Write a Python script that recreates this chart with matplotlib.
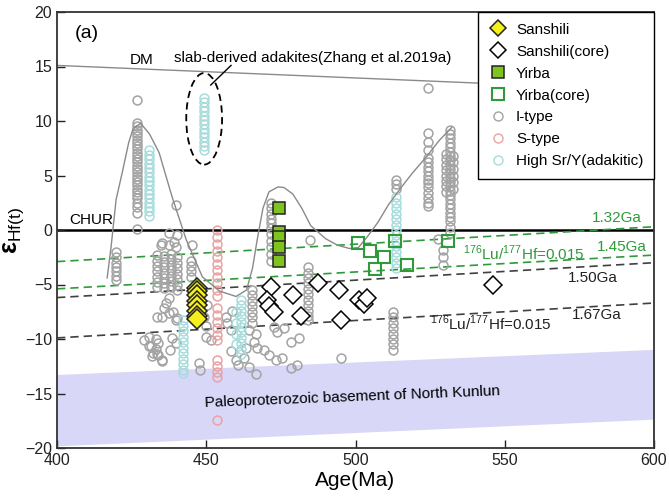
import matplotlib
matplotlib.use("Agg")
import matplotlib.pyplot as plt
from matplotlib.lines import Line2D
from matplotlib.patches import Ellipse, Polygon

plt.rcParams['font.family'] = ['Liberation Sans', 'DejaVu Sans']
plt.rcParams['mathtext.fontset'] = 'custom'
plt.rcParams['mathtext.rm'] = 'Liberation Sans'
plt.rcParams['mathtext.bf'] = 'Liberation Sans:bold'

# ---------------- data ----------------
# Sanshili zircons (age Ma, eHf(t))
sanshili_age = [447, 447, 447, 447, 447, 447, 447, 447]
sanshili_eps = [-5.3, -5.6, -6.0, -6.5, -6.9, -7.4, -7.9, -8.2]

# Sanshili inherited cores
sanshili_core_age = [471.8, 470.5, 471.1, 472.8, 478.9, 481.9, 487.6, 494.6, 495.3, 501.3, 502.7, 503.7, 546.0]
sanshili_core_eps = [-5.2, -6.4, -7.0, -7.5, -6.0, -7.9, -4.9, -5.5, -8.3, -6.4, -6.8, -6.2, -5.0]

# Yirba zircons
yirba_age = [474.5, 474.5, 474.5, 474.5, 474.5]
yirba_eps = [2.0, -0.2, -0.6, -1.6, -2.8]

# Yirba inherited cores
yirba_core_age = [500.7, 504.7, 509.7, 506.4, 513.1, 517.4, 530.9]
yirba_core_eps = [-1.2, -1.9, -2.5, -3.6, -1.0, -3.2, -1.0]

# Regional I-type granitoids
itype_age = (
    [426.8] * 29
    + [419.8] * 7
    + [439.9, 437.6, 440.3, 439.3, 435.2, 437.6, 434.9, 439.9, 445.3]
    + [433.6] * 7 + [435.9] * 7 + [438.3] * 7 + [440.3] * 7
    + [445.0] * 4
    + [437.6, 436.0, 438.7, 440.3, 433.6, 436.6, 437.6, 439.9, 435.2]
    + [430.9, 433.0, 434.0, 433.0, 434.0, 435.2, 431.6, 429.2, 430.9, 432.0, 433.6, 431.9,
       435.2, 438.4, 439.7, 438.0, 447.7, 447.9, 450.0, 451.7]
    + [449.3, 450.3, 450.0, 456.7, 457.0, 458.7, 458.4]
    + [465.4] * 7
    + [464.4, 466.8, 466.0, 463.4, 467.1, 469.5, 471.1, 460.1, 462.8, 464.4, 466.8, 460.8, 458.4]
    + [471.8] * 11
    + [484.6]
    + [484.2] * 11
    + [472.8, 476.2, 473.8, 481.2, 478.5, 475.5, 473.5, 480.5, 478.5, 495.3]
    + [512.4] * 8
    + [513.7] * 3
    + [524.2] * 16
    + [531.5] * 24
    + [530.3] * 8
    + [532.8] * 6
    + [527.5, 529.3, 529.3, 529.3]
)
itype_eps = (
    [11.9, 9.8, 9.5, 9.2, 8.9, 8.6, 8.3, 8.0, 7.7, 7.4, 7.1, 6.8, 6.5, 6.2, 5.9, 5.6, 5.3,
     5.0, 4.7, 4.4, 4.1, 3.8, 3.5, 3.2, 2.9, 2.5, 2.1, 1.6, 0.1]
    + [-2.0, -2.5, -3.0, -3.4, -3.8, -4.2, -4.6]
    + [2.3, -0.3, -0.5, -1.1, -1.2, -1.4, -1.4, -1.6, -1.4]
    + [-2.3, -2.8, -3.3, -3.8, -4.3, -4.8, -5.2]
    + [-2.4, -2.9, -3.4, -3.9, -4.4, -4.9, -5.3]
    + [-2.2, -2.7, -3.2, -3.7, -4.2, -4.7, -5.2]
    + [-2.5, -3.0, -3.5, -4.0, -4.5, -5.0, -5.5]
    + [-2.8, -3.3, -3.8, -4.3]
    + [-6.2, -7.2, -7.5, -8.1, -8.0, -6.7, -7.6, -8.3, -8.0]
    + [-9.8, -10.0, -10.4, -10.9, -11.5, -11.9, -10.6, -10.1, -10.6, -11.3, -11.4, -11.6,
       -12.0, -9.9, -10.4, -11.0, -12.2, -12.8, -9.8, -10.1]
    + [-8.0, -6.9, -8.8, -8.0, -8.5, -7.4, -9.2]
    + [-5.5, -6.0, -6.5, -7.0, -7.5, -8.0, -8.5]
    + [-9.2, -9.5, -10.3, -10.8, -10.8, -11.0, -11.5, -11.9, -11.7, -12.6, -13.2, -12.4, -11.1]
    + [2.5, 2.0, 1.5, 1.0, 0.6, 0.2, -0.4, -1.0, -1.6, -2.2, -2.8]
    + [-0.9]
    + [-3.4, -3.9, -4.4, -4.9, -5.4, -5.9, -6.4, -6.9, -7.4, -7.9, -8.3]
    + [-8.9, -9.0, -9.4, -9.9, -10.3, -11.7, -11.9, -12.4, -12.7, -11.7]
    + [-7.5, -8.0, -8.5, -9.0, -9.5, -10.0, -10.5, -11.0]
    + [4.6, 4.2, 3.8]
    + [13.0, 8.9, 8.1, 7.3, 6.6, 6.2, 5.8, 5.4, 5.0, 4.6, 4.3, 3.9, 3.4, 2.9, 2.5, 2.2]
    + [9.2, 8.8, 8.4, 8.0, 7.6, 7.2, 6.8, 6.4, 6.0, 5.6, 5.2, 4.8, 4.4, 4.0, 3.6, 3.2,
       2.8, 2.4, 2.0, 1.6, 1.2, 0.8, 0.3, -0.3]
    + [7.0, 6.5, 6.0, 5.5, 5.0, 4.5, 4.0, 3.5]
    + [6.8, 6.2, 5.6, 5.0, 4.4, 3.8]
    + [-0.8, -1.8, -2.5, -3.2]
)

# Regional S-type granitoids
stype_age = [453.7] * 22
stype_eps = [0.0, -0.6, -1.3, -1.9, -2.5, -3.1, -3.7, -4.3, -4.9, -5.5, -6.1, -7.2, -7.8,
             -8.4, -9.0, -9.6, -10.1, -11.9, -12.5, -13.0, -13.5, -17.4]

# High Sr/Y (adakitic) rocks
adak_age = [430.9] * 16 + [449.2] * 13 + [442.3] * 11 + [461.5] * 11 + [460.0] * 4 + [513.7] * 14
adak_eps = (
    [7.3, 6.9, 6.5, 6.1, 5.7, 5.3, 4.9, 4.5, 4.1, 3.7, 3.3, 2.9, 2.5, 2.1, 1.7, 1.3]
    + [12.1, 11.7, 11.3, 10.9, 10.5, 10.1, 9.7, 9.3, 8.9, 8.5, 8.1, 7.7, 7.3]
    + [-8.3, -8.8, -9.3, -9.8, -10.3, -10.8, -11.3, -11.8, -12.3, -12.8, -13.1]
    + [-6.4, -6.9, -7.4, -7.9, -8.4, -8.9, -9.4, -9.9, -10.4, -10.9, -11.4]
    + [-7.5, -8.5, -9.5, -10.5]
    + [3.0, 2.5, 2.0, 1.5, 1.0, 0.5, 0.0, -0.5, -1.0, -1.5, -2.0, -2.5, -3.0, -3.5]
)

# Hand-drawn trend envelope through the regional data
trend_age = [416.8, 418.1, 419.8, 421.8, 424.0, 425.5, 428.0, 431.0, 434.2, 438.6, 443.3,
             448.7, 454.4, 460.0, 463.5, 465.5, 467.0, 469.0, 471.0, 474.0, 476.0, 479.0,
             482.0, 485.0, 490.0, 494.0, 498.0, 501.0, 504.0, 507.5, 511.0, 515.0, 519.0,
             524.0, 528.0, 532.2]
trend_eps = [-4.4, -1.6, 2.8, 5.2, 8.0, 9.3, 9.8, 8.8, 7.1, 3.0, -0.9, -4.3, -5.6, -6.1,
             -5.5, -3.5, -1.0, 2.0, 3.5, 3.95, 3.9, 3.3, 2.0, 0.4, -0.8, -1.4, -1.7, -1.6,
             -0.6, 0.7, 2.3, 3.8, 5.2, 6.8, 8.2, 9.4]

# Reference evolution lines (end points at 400 and 600 Ma)
line_ages = [400, 600]
dm_eps = [15.1, 12.8]
tdm_132_eps = [-2.9, 0.3]
tdm_145_eps = [-5.4, -2.3]
tdm_150_eps = [-6.2, -3.0]
tdm_167_eps = [-9.9, -6.7]
basement_top = [-13.3, -11.0]
basement_bottom = [-19.85, -17.4]

# ---------------- figure ----------------
fig = plt.figure(figsize=(6.69, 5.0), dpi=100)
ax = fig.add_axes([0.0852, 0.104, 0.8924, 0.872])
ax.set_xlim(400, 600)
ax.set_ylim(-20, 20)

GRAY = '#a3a3a3'
PINK = '#e8a3a3'
CYAN = '#a6dcdc'
GREEN = '#2e9a3a'
LIME = '#7fc41e'

# basement field
ax.add_patch(Polygon([(line_ages[0], basement_top[0]), (line_ages[1], basement_top[1]),
                      (line_ages[1], basement_bottom[1]), (line_ages[0], basement_bottom[0])],
                     closed=True, facecolor='#d9d7f8', edgecolor='none', zorder=0))

# reference lines
ax.plot(line_ages, dm_eps, color='#8a8a8a', lw=1.0, zorder=1)
ax.axhline(0, color='black', lw=1.8, zorder=1)
ax.plot(line_ages, tdm_132_eps, color=GREEN, lw=1.2, ls=(0, (5, 3)), zorder=1)
ax.plot(line_ages, tdm_145_eps, color=GREEN, lw=1.2, ls=(0, (5, 3)), zorder=1)
ax.plot(line_ages, tdm_150_eps, color='#404040', lw=1.2, ls=(0, (5, 3)), zorder=1)
ax.plot(line_ages, tdm_167_eps, color='#404040', lw=1.2, ls=(0, (5, 3)), zorder=1)

# regional data
circ = dict(marker='o', ls='none', ms=6.4, mfc='none', mew=1.1)
ax.plot(itype_age, itype_eps, mec=GRAY, zorder=2, **circ)
ax.plot(stype_age, stype_eps, mec=PINK, zorder=2, **circ)
ax.plot(adak_age, adak_eps, mec=CYAN, zorder=2, **circ)

# trend curve
ax.plot(trend_age, trend_eps, color='#8a8a8a', lw=1.0, zorder=3)

# this study
ax.plot(sanshili_core_age, sanshili_core_eps, marker='D', ls='none', ms=9.5, mfc='white',
        mec='black', mew=1.1, zorder=4)
ax.plot(yirba_core_age, yirba_core_eps, marker='s', ls='none', ms=9, mfc='none',
        mec=GREEN, mew=1.5, zorder=4)
ax.plot(yirba_age, yirba_eps, marker='s', ls='none', ms=9, mfc=LIME,
        mec='#222222', mew=1.1, zorder=5)
ax.plot(sanshili_age, sanshili_eps, marker='D', ls='none', ms=10, mfc='#f5f01a',
        mec='#222222', mew=1.1, zorder=5)

# slab-derived adakite field
ax.add_patch(Ellipse((449.3, 10.2), width=12, height=8.4, fill=False, ec='black',
                     lw=1.3, ls=(0, (4, 2.5)), zorder=3))
ax.plot([451.5, 458.3], [13.3, 15.1], color='black', lw=1.0, zorder=3)
ax.text(439.3, 15.8, 'slab-derived adakites(Zhang et al.2019a)', fontsize=11,
        va='center', ha='left', zorder=6)

# labels
ax.text(410, 18.0, '(a)', fontsize=14, va='center', ha='center')
ax.text(428.5, 15.0, 'DM', fontsize=11, va='bottom', ha='center')
ax.text(404, 0.25, 'CHUR', fontsize=11, va='bottom', ha='left')
ax.text(579.3, 1.07, '1.32Ga', fontsize=11, color=GREEN, va='center', ha='left')
ax.text(580.7, -1.53, '1.45Ga', fontsize=11, color=GREEN, va='center', ha='left')
ax.text(536.0, -2.14, r'$^{176}$Lu/$^{177}$Hf=0.015', fontsize=11, color=GREEN,
        va='center', ha='left')
ax.text(571.2, -4.43, '1.50Ga', fontsize=11, color='#222222', va='center', ha='left')
ax.text(572.4, -7.8, '1.67Ga', fontsize=11, color='#222222', va='center', ha='left')
ax.text(524.8, -8.56, r'$^{176}$Lu/$^{177}$Hf=0.015', fontsize=11, color='#222222',
        va='center', ha='left')
ax.text(499, -15.35, 'Paleoproterozoic basement of North Kunlun', fontsize=11,
        va='center', ha='center', rotation=2.3, rotation_mode='anchor')

# axes styling
ax.set_xticks([400, 450, 500, 550, 600])
ax.set_yticks([-20, -15, -10, -5, 0, 5, 10, 15, 20])
ax.tick_params(direction='in', labelsize=11.5, length=6, width=1.0, colors='#222222')
for s in ax.spines.values():
    s.set_linewidth(1.3)
    s.set_color('#333333')
ax.set_xlabel('Age(Ma)', fontsize=15, labelpad=2)
ax.set_ylabel(r'$\mathbf{\varepsilon}_{\mathrm{Hf(t)}}$', fontsize=18)
ax.yaxis.set_label_coords(-0.052, 0.5)

# legend
handles = [
    Line2D([], [], marker='D', ls='none', ms=8, mfc='#f5f01a', mec='#222222', mew=1.1),
    Line2D([], [], marker='D', ls='none', ms=8, mfc='white', mec='black', mew=1.1),
    Line2D([], [], marker='s', ls='none', ms=8, mfc=LIME, mec='#222222', mew=1.1),
    Line2D([], [], marker='s', ls='none', ms=8, mfc='none', mec=GREEN, mew=1.5),
    Line2D([], [], marker='o', ls='none', ms=6.5, mfc='none', mec=GRAY, mew=1.0),
    Line2D([], [], marker='o', ls='none', ms=6.5, mfc='none', mec=PINK, mew=1.0),
    Line2D([], [], marker='o', ls='none', ms=6.5, mfc='none', mec=CYAN, mew=1.0),
]
labels = ['Sanshili', 'Sanshili(core)', 'Yirba', 'Yirba(core)', 'I-type', 'S-type',
          'High Sr/Y(adakitic)']
leg = ax.legend(handles, labels, loc='upper right', fontsize=11, frameon=True,
                fancybox=False, edgecolor='black', borderaxespad=0, labelspacing=0.52,
                handletextpad=0.6, handlelength=1.2, borderpad=0.7, framealpha=1)
leg.get_frame().set_linewidth(1.0)
leg.set_zorder(10)

fig.savefig('out.png', dpi=100)
